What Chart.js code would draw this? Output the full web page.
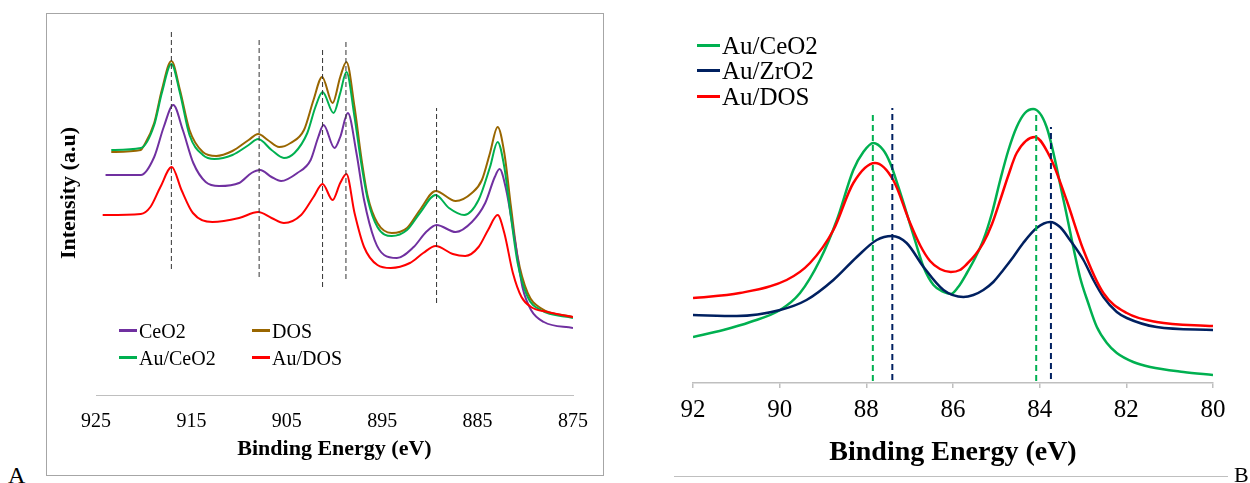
<!DOCTYPE html>
<html lang="en">
<head>
  <meta charset="UTF-8">
  <title>XPS Ce 3d and Au 4f</title>
  <script src="https://cdn.jsdelivr.net/npm/chart.js"></script>
  <style>
    body {
      margin: 0;
      width: 1250px;
      height: 483px;
      background: white;
      font-family: "Liberation Serif", "Times New Roman", serif;
      position: relative;
      overflow: hidden;
    }
    .frame {
      position: absolute;
      left: 46px;
      top: 13px;
      width: 558px;
      height: 463px;
      box-sizing: border-box;
      border: 1px solid #a6a6a6;
    }
    .frame canvas { position: absolute; left: 0; top: 0; }
    #boxB { position: absolute; left: 640px; top: 0; }
    .legend-item {
      position: absolute;
      display: flex;
      align-items: center;
      line-height: 1;
      white-space: nowrap;
    }
    .legend-item span.swatch { display: inline-block; }
    .ytitle {
      position: absolute;
      width: 220px;
      text-align: center;
      font-weight: bold;
      font-size: 22px;
      line-height: 1;
      transform: rotate(-90deg);
    }
    .panel-label { position: absolute; line-height: 1; }
    .rule { position: absolute; background: #bfbfbf; height: 1px; }
  </style>
</head>
<body>
  <div class="frame"><canvas id="chartA" width="556" height="461"></canvas></div>
  <div class="ytitle" style="left:-42px; top:182px;">Intensity (a.u)</div>
  <canvas id="boxB" width="610" height="483"></canvas>
  <div class="rule" style="left:674px; top:476px; width:554px;"></div>
  <div class="panel-label" style="left:8px; top:463px; font-size:24px;">A</div>
  <div class="panel-label" style="left:1234px; top:464px; font-size:22px;">B</div>
  <div id="legendA"></div>
  <div id="legendB"></div>

  <script>
    // ---- Panel A: Ce 3d (binding energy in eV, intensity in a.u.) ----
    const ceo2BE = [924.0, 920.3, 918.9, 917.9, 916.9, 915.9, 914.8, 913.5, 912.1, 910.0, 908.7, 907.8, 906.6, 905.6, 903.9, 902.5, 901.7, 901.15, 900.0, 899.4, 898.6, 897.7, 896.9, 895.8, 894.8, 893.45, 891.7, 890.4, 889.3, 887.3, 885.6, 884.2, 883.2, 882.7, 882.0, 881.1, 880.3, 879.4, 878.05, 875.0];
    const ceo2Int = [220, 220, 238, 268, 290, 265, 232, 213, 209, 212, 222, 225, 218, 214, 222, 235, 258, 270, 247, 258, 282, 242, 195, 155, 140, 137, 148, 163, 170, 163, 173, 192, 218, 226, 205, 155, 108, 85, 73, 67];

    const dosBE = [923.4, 920.3, 920.0, 918.9, 918.1, 917.1, 916.2, 915.2, 913.8, 912.4, 910.7, 909.0, 908.0, 907.0, 905.8, 904.6, 903.2, 902.2, 901.3, 900.2, 899.4, 898.75, 897.9, 897.2, 896.5, 895.5, 894.0, 892.4, 891.05, 889.4, 887.3, 885.6, 884.55, 883.7, 882.9, 882.2, 881.5, 880.8, 879.75, 878.4, 875.0];
    const dosInt = [243, 245, 249, 272, 305, 334, 305, 265, 243, 239, 244, 255, 261, 255, 248, 252, 265, 295, 318, 292, 318, 333, 288, 238, 198, 172, 162, 167, 185, 204, 194, 202, 215, 242, 268, 242, 188, 138, 102, 87, 78];

    const auCeo2BE = [923.4, 920.3, 918.9, 918.1, 917.1, 916.2, 915.2, 913.8, 912.6, 910.7, 909.0, 908.0, 906.6, 905.3, 904.2, 902.85, 902.0, 901.25, 900.1, 899.4, 898.75, 897.9, 897.2, 896.5, 895.5, 894.0, 892.4, 891.05, 889.4, 888.0, 886.4, 884.9, 883.7, 882.9, 882.2, 881.5, 880.8, 879.75, 878.4, 875.0];
    const auCeo2Int = [245, 247, 270, 302, 331, 302, 260, 240, 236, 240, 250, 256, 245, 237, 242, 262, 288, 303, 282, 302, 323, 278, 232, 195, 168, 159, 165, 182, 200, 187, 180, 195, 228, 253, 228, 178, 132, 98, 85, 77];

    const auDosBE = [924.3, 920.3, 919.3, 918.25, 917.06, 916.04, 914.84, 912.8, 910.0, 908.0, 906.6, 905.3, 903.5, 902.2, 901.25, 900.2, 899.4, 898.75, 897.9, 896.9, 895.5, 894.1, 892.1, 890.7, 889.4, 887.6, 886.3, 884.9, 883.9, 882.9, 882.2, 881.3, 880.4, 879.4, 877.7, 875.0];
    const auDosInt = [180, 181, 188, 208, 228, 205, 182, 173, 177, 183, 177, 172, 180, 198, 211, 195, 212, 221, 182, 148, 130, 127, 132, 142, 149, 141, 139, 148, 165, 180, 162, 122, 98, 88, 83, 78];

    // reference peak positions (dashed guides)
    const guideA_BE = [917.1, 907.9, 901.25, 898.8, 889.3];
    const guideA_top = [363, 355, 345, 353, 287];
    const guideA_bottom = [126, 118, 108, 116, 92];

    const namesA = ["CeO2", "DOS", "Au/CeO2", "Au/DOS"];
    const ticksA = [925, 915, 905, 895, 885, 875];

    // ---- Panel B: Au 4f ----
    const bCeo2BE = [92.0, 91.3, 90.68, 89.99, 89.53, 89.07, 88.68, 88.3, 88.07, 87.84, 87.61, 87.45, 87.26, 87.07, 86.88, 86.68, 86.45, 86.22, 86.05, 85.88, 85.68, 85.49, 85.3, 85.1, 84.91, 84.72, 84.53, 84.34, 84.15, 83.84, 83.45, 83.07, 82.88, 82.68, 82.45, 82.22, 81.84, 81.45, 80.68, 80.0];
    const bCeo2Int = [46, 53, 61, 73, 90, 123, 163, 213, 231, 240, 233, 220, 196, 170, 143, 116, 98, 91, 89, 96, 110, 125, 143, 170, 203, 233, 256, 270, 274, 256, 183, 106, 80, 56, 40, 30, 21, 16, 11, 8];

    const bZro2BE = [92.0, 90.99, 89.99, 89.38, 88.76, 88.22, 87.76, 87.41, 87.07, 86.68, 86.22, 85.76, 85.53, 85.3, 85.07, 84.84, 84.61, 84.38, 84.07, 83.76, 83.53, 83.3, 82.99, 82.76, 82.53, 82.22, 81.99, 81.3, 80.0];
    const bZro2Int = [68, 67, 73, 83, 103, 126, 143, 147, 140, 116, 93, 86, 88, 93, 101, 113, 126, 140, 155, 161, 156, 143, 123, 103, 86, 71, 65, 56, 53];

    const bDosBE = [92.0, 90.92, 89.84, 89.3, 88.76, 88.3, 87.8, 87.38, 86.99, 86.75, 86.53, 86.3, 86.05, 85.84, 85.68, 85.49, 85.3, 85.1, 84.91, 84.72, 84.53, 84.11, 83.76, 83.38, 82.99, 82.53, 81.99, 81.3, 80.0];
    const bDosInt = [85, 90, 103, 120, 153, 200, 220, 203, 160, 137, 122, 114, 111, 113, 119, 128, 140, 159, 183, 208, 230, 246, 226, 183, 133, 90, 70, 61, 57];

    const guideB_BE = [87.85, 87.4, 84.08, 83.74];
    const guideB_top = [271, 275, 270, 256];
    const guideB_bottom = [2, 3, 2, 4];

    const namesB = ["Au/CeO2", "Au/ZrO2", "Au/DOS"];
    const ticksB = [92, 90, 88, 86, 84, 82, 80];

    const SERIF = "'Liberation Serif', 'Times New Roman', serif";
    const GREEN = "#00b050", NAVY = "#002060", RED = "#ff0000", PURPLE = "#7030a0", BROWN = "#996600";

    function toPoints(xs, ys) {
      return xs.map((x, i) => ({ x: x, y: ys[i] }));
    }

    function curve(label, xs, ys, color, width) {
      return {
        label: label,
        data: toPoints(xs, ys),
        borderColor: color,
        borderWidth: width,
        pointRadius: 0,
        fill: false,
        cubicInterpolationMode: "monotone"
      };
    }

    function guide(x, y0, y1, color, width, dash) {
      return {
        label: "",
        data: [{ x: x, y: y0 }, { x: x, y: y1 }],
        borderColor: color,
        borderWidth: width,
        borderDash: dash,
        pointRadius: 0,
        fill: false
      };
    }

    // Chart A
    const guidesA = guideA_BE.map((x, i) => guide(x, guideA_bottom[i], guideA_top[i], "#333333", 1, [5, 3]));
    const chartA = new Chart(document.getElementById("chartA"), {
      type: "line",
      data: {
        datasets: guidesA.concat([
          curve("Au/DOS", auDosBE, auDosInt, RED, 2),
          curve("Au/CeO2", auCeo2BE, auCeo2Int, GREEN, 2),
          curve("CeO2", ceo2BE, ceo2Int, PURPLE, 2),
          curve("DOS", dosBE, dosInt, BROWN, 2)
        ])
      },
      options: {
        responsive: false,
        animation: false,
        devicePixelRatio: 1,
        layout: { padding: { left: 49, right: 20, top: 6, bottom: 0 } },
        plugins: { legend: { display: false }, tooltip: { enabled: false } },
        scales: {
          x: {
            type: "linear",
            reverse: true,
            min: 875,
            max: 925,
            afterBuildTicks: (scale) => { scale.ticks = ticksA.map(v => ({ value: v })); },
            afterFit: (scale) => { scale.height = 80; },
            grid: { display: false, drawTicks: false },
            border: { display: true, color: "#bfbfbf", width: 1 },
            ticks: { color: "#000", padding: 15, maxRotation: 0, font: { family: SERIF, size: 20 } },
            title: {
              display: true,
              text: "Binding Energy (eV)",
              color: "#000",
              padding: { top: 0, bottom: 12 },
              font: { family: SERIF, size: 22, weight: "bold" }
            }
          },
          y: { display: false, min: 0, max: 375 }
        }
      }
    });

    // Chart B
    const guideColorsB = [GREEN, NAVY, GREEN, NAVY];
    const guidesB = guideB_BE.map((x, i) => guide(x, guideB_bottom[i], guideB_top[i], guideColorsB[i], 2, [6, 4]));
    const chartB = new Chart(document.getElementById("boxB"), {
      type: "line",
      data: {
        datasets: guidesB.concat([
          curve("Au/DOS", bDosBE, bDosInt, RED, 2.5),
          curve("Au/ZrO2", bZro2BE, bZro2Int, NAVY, 2.5),
          curve("Au/CeO2", bCeo2BE, bCeo2Int, GREEN, 2.5)
        ])
      },
      options: {
        responsive: false,
        animation: false,
        devicePixelRatio: 1,
        layout: { padding: { left: 53, right: 37, top: 20, bottom: 0 } },
        plugins: { legend: { display: false }, tooltip: { enabled: false } },
        scales: {
          x: {
            type: "linear",
            reverse: true,
            min: 80,
            max: 92,
            afterBuildTicks: (scale) => { scale.ticks = ticksB.map(v => ({ value: v })); },
            afterFit: (scale) => { scale.height = 100; },
            grid: { display: true, drawOnChartArea: false, drawTicks: true, tickLength: 5, color: "#bfbfbf", lineWidth: 1.5 },
            border: { display: true, color: "#bfbfbf", width: 1.5 },
            ticks: { color: "#000", padding: 7, maxRotation: 0, font: { family: SERIF, size: 25 } },
            title: {
              display: true,
              text: "Binding Energy (eV)",
              color: "#000",
              padding: { top: 0, bottom: 13 },
              font: { family: SERIF, size: 28, weight: "bold" }
            }
          },
          y: { display: false, min: 0, max: 363 }
        }
      }
    });

    // HTML legends, built from the series names and the chart colours
    function colorOf(chart, name) {
      return chart.data.datasets.find(d => d.label === name).borderColor;
    }

    function addLegend(holderId, chart, names, spots, swatchW, swatchH, fontSize) {
      const holder = document.getElementById(holderId);
      names.forEach((name, i) => {
        const item = document.createElement("div");
        item.className = "legend-item";
        item.style.left = spots[i][0] + "px";
        item.style.top = (spots[i][1] - fontSize / 2) + "px";
        item.style.height = fontSize + "px";
        item.style.fontSize = fontSize + "px";
        const sw = document.createElement("span");
        sw.className = "swatch";
        sw.style.width = swatchW + "px";
        sw.style.height = swatchH + "px";
        sw.style.marginRight = "2px";
        sw.style.background = colorOf(chart, name);
        item.appendChild(sw);
        item.appendChild(document.createTextNode(name));
        holder.appendChild(item);
      });
    }

    addLegend("legendA", chartA, namesA, [[119, 330.5], [252, 330.5], [119, 357.5], [252, 357.5]], 18, 2.5, 20);
    addLegend("legendB", chartB, namesB, [[697, 45], [697, 70.5], [697, 96]], 23, 3, 25);
  </script>
</body>
</html>
